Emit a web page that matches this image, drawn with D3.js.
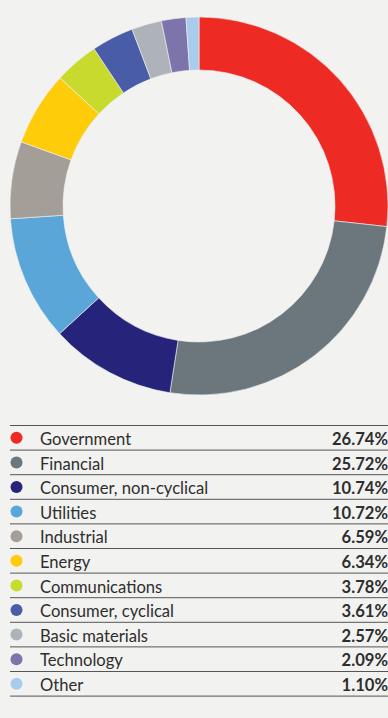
<!DOCTYPE html>
<html>
<head>
<meta charset="utf-8">
<script src="https://cdn.jsdelivr.net/npm/d3@7"></script>
<style>
  html, body { margin: 0; padding: 0; background: #f2f2f0; }
  svg { display: block; }
</style>
</head>
<body>
<svg id="chart" width="388" height="718"></svg>
<script>
// Sector allocation (%)
const sectors = ["Government", "Financial", "Consumer, non-cyclical", "Utilities", "Industrial",
  "Energy", "Communications", "Consumer, cyclical", "Basic materials", "Technology", "Other"];
const weights = [26.74, 25.72, 10.74, 10.72, 6.59, 6.34, 3.78, 3.61, 2.57, 2.09, 1.10];
const colours = ["#ee2a24", "#6c777d", "#25237a", "#5aa6d8", "#a49e99", "#ffcc0a",
  "#c8da2e", "#495ca8", "#adb3b9", "#7c74ab", "#a8cceb"];

(function () {
  const svg = d3.select("#chart");
  const W = 388;

  // Donut
  const cx = 199, cy = 206, rOuter = 189, rInner = 136;
  const pie = d3.pie().sort(null).value(d => d.value);
  const arc = d3.arc().innerRadius(rInner).outerRadius(rOuter);
  const data = sectors.map((s, i) => ({ name: s, value: weights[i], colour: colours[i] }));

  svg.append("g")
    .attr("transform", `translate(${cx},${cy})`)
    .selectAll("path")
    .data(pie(data))
    .join("path")
    .attr("d", arc)
    .attr("fill", d => d.data.colour)
    .attr("stroke", "#f2f2f0")
    .attr("stroke-width", 0.6);

  // Legend table
  const tableTop = 425.5, rowH = 24.6, left = 10;
  const y = d3.scaleBand().domain(sectors).range([tableTop, tableTop + rowH * sectors.length]);
  const fmt = v => v.toFixed(2) + "%";

  const legend = svg.append("g").attr("font-family", "Lato, sans-serif").attr("fill", "#2e2e2e");

  legend.append("line")
    .attr("x1", left).attr("x2", W).attr("y1", tableTop).attr("y2", tableTop)
    .attr("stroke", "#555").attr("stroke-width", 1);

  const rows = legend.selectAll("g.row").data(data).join("g")
    .attr("class", "row")
    .attr("transform", d => `translate(0,${y(d.name)})`);

  rows.append("line")
    .attr("x1", left).attr("x2", W)
    .attr("y1", rowH).attr("y2", rowH)
    .attr("stroke", "#555").attr("stroke-width", 1);

  rows.append("circle")
    .attr("cx", 16.5).attr("cy", rowH / 2)
    .attr("r", 6)
    .attr("fill", d => d.colour);

  rows.append("text")
    .attr("x", 40).attr("y", rowH - 5)
    .attr("font-size", 16.6)
    .text(d => d.name);

  rows.append("text")
    .attr("x", W).attr("y", rowH - 5)
    .attr("text-anchor", "end")
    .attr("font-size", 16.6)
    .attr("font-weight", "bold")
    .text(d => fmt(d.value));
})();
</script>
</body>
</html>
